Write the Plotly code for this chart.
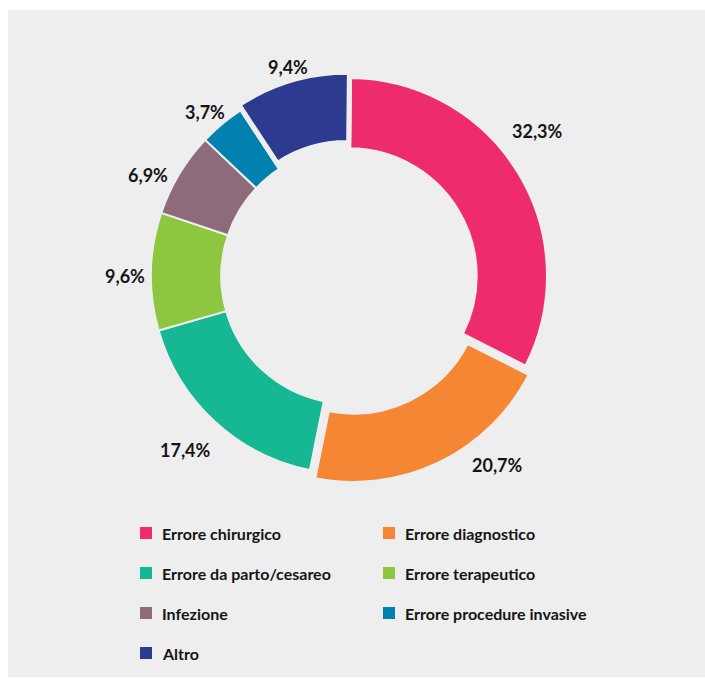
import math
import plotly.graph_objects as go

# Shares of claims by type of error (percent)
categories = [
    "Errore chirurgico",
    "Errore diagnostico",
    "Errore da parto/cesareo",
    "Errore terapeutico",
    "Infezione",
    "Errore procedure invasive",
    "Altro",
]
shares = [32.3, 20.7, 17.4, 9.6, 6.9, 3.7, 9.4]
share_labels = ["32,3%", "20,7%", "17,4%", "9,6%", "6,9%", "3,7%", "9,4%"]
colors = ["#ee2c6b", "#f58634", "#16b893", "#8dc63f", "#8e6b7b", "#0081b0", "#2c3a8f"]

# Slice styling
pulls = [0, 0.05, 0, 0, 0, 0, 0.03]
edge_widths = [2, 4, 2, 2, 2, 2, 5]

W, H = 705, 684
BG = "#eeeeee"
TXT = "#151515"
FONT = "Lato"

# Donut geometry in pixels
cx, cy, R = 349, 276, 198
half = R * (1 + max(pulls))

fig = go.Figure(
    go.Pie(
        labels=categories,
        values=shares,
        sort=False,
        direction="clockwise",
        rotation=0.6,
        hole=0.645,
        pull=pulls,
        marker=dict(colors=colors, line=dict(color=BG, width=edge_widths)),
        textinfo="none",
        hoverinfo="label+percent",
        showlegend=False,
        domain=dict(
            x=[(cx - half) / W, (cx + half) / W],
            y=[1 - (cy + half) / H, 1 - (cy - half) / H],
        ),
    )
)

def px_to_paper(x, y):
    return x / W, 1 - y / H

# Percentage labels placed around the ring along each slice's bisector
angle_nudge = [-5.5, -12, 1, -0.7, -3.6, -0.6, 0.9]
label_radius = [239, 241, 238, 223, 224, 217, 217]
total = sum(shares)
cum = 0.0
annotations = []
for i, v in enumerate(shares):
    mid = (cum + v / 2) / total * 360 + angle_nudge[i]
    cum += v
    th = math.radians(mid)
    lx = cx - 1 + label_radius[i] * math.sin(th)
    ly = cy - label_radius[i] * math.cos(th)
    x, y = px_to_paper(lx, ly)
    annotations.append(dict(
        x=x, y=y, xref="paper", yref="paper", text=share_labels[i],
        showarrow=False, xanchor="center", yanchor="middle",
        font=dict(family=FONT, size=18, color=TXT, weight="bold"),
    ))

# Two-column legend under the donut
shapes = [dict(
    type="rect", xref="paper", yref="paper", layer="below",
    x0=8 / W, x1=1, y0=1 - 677 / H, y1=1 - 10 / H,
    fillcolor=BG, line=dict(width=0),
)]
col_x = [140, 383]
row_y0, row_step, sq = 533, 40, 12
for i, (name, col) in enumerate(zip(categories, colors)):
    sx = col_x[i % 2]
    sy = row_y0 + (i // 2) * row_step
    x0, y0 = px_to_paper(sx, sy - sq / 2)
    x1, y1 = px_to_paper(sx + sq, sy + sq / 2)
    shapes.append(dict(
        type="rect", xref="paper", yref="paper",
        x0=x0, x1=x1, y0=y1, y1=y0, fillcolor=col, line=dict(width=0),
    ))
    tx, ty = px_to_paper(sx + 20, sy)
    annotations.append(dict(
        x=tx, y=ty, xref="paper", yref="paper", text=name,
        showarrow=False, xanchor="left", yanchor="middle",
        font=dict(family=FONT, size=16, color=TXT, weight="bold"),
    ))

fig.update_layout(
    width=W, height=H,
    margin=dict(l=0, r=0, t=0, b=0),
    paper_bgcolor="white",
    plot_bgcolor="white",
    shapes=shapes,
    annotations=annotations,
)

fig.write_html("out.html")
